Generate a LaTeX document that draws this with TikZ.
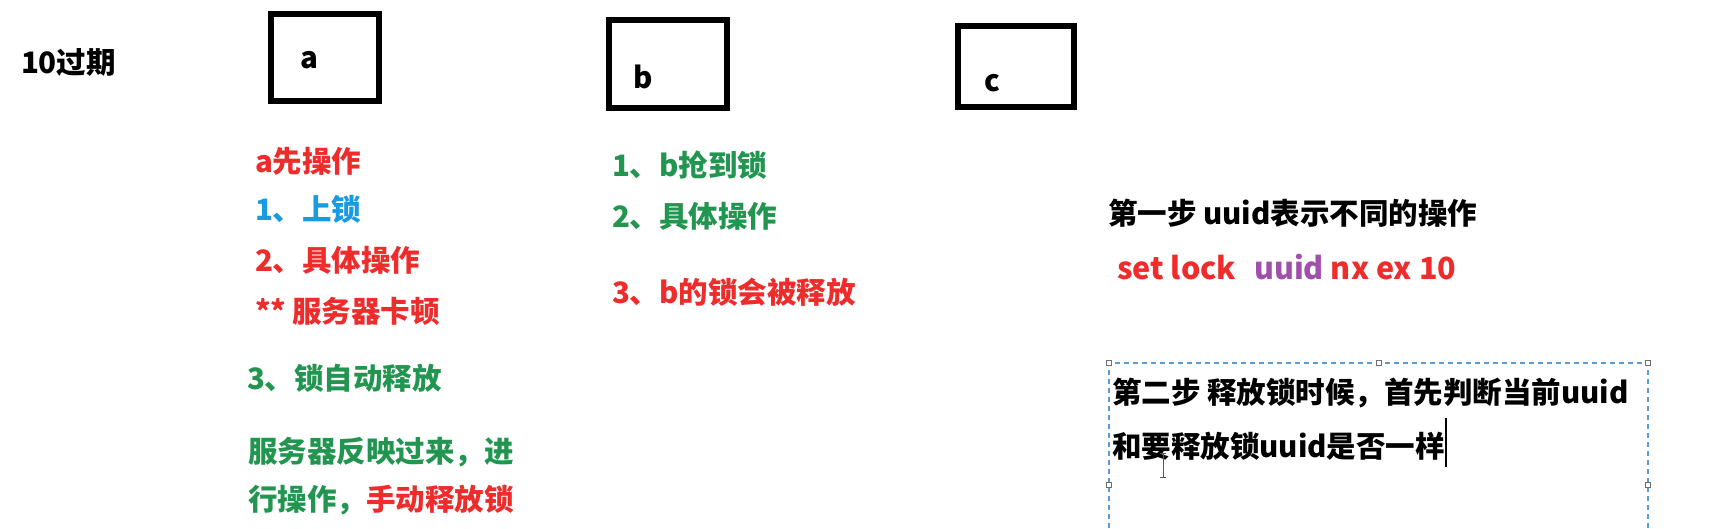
\documentclass[tikz,border=0pt]{standalone}
\usepackage{fontspec}
\setmainfont{Noto Sans CJK SC}
\definecolor{cred}{RGB}{238,44,44}
\definecolor{cgreen}{RGB}{34,150,80}
\definecolor{cblue}{RGB}{24,155,225}
\definecolor{cpurple}{RGB}{160,80,170}
\definecolor{selblue}{RGB}{91,155,213}
\definecolor{handlegray}{RGB}{110,110,110}
\newcommand\bigf{\fontsize{29.5}{35}\selectfont\bfseries}
\newcommand\cmdf{\fontsize{30.5}{36}\selectfont\bfseries}
\tikzset{
  txt/.style={anchor=base west, inner sep=0pt, outer sep=0pt, font=\bigf},
  boxlbl/.style={anchor=base, inner sep=0pt, font=\bigf},
  blackbox/.style={draw=black, line width=6.5pt, rectangle, inner sep=0pt, outer sep=0pt},
  handle/.style={draw=handlegray, fill=white, line width=0.8pt, rectangle, minimum size=5pt, inner sep=0pt},
  seldash/.style={draw=selblue, line width=1.3pt, dash pattern=on 5pt off 4pt}
}
\begin{document}
\begin{tikzpicture}[x=1pt, y=-1pt]
\useasboundingbox[fill=white] (0,0) rectangle (1715,528);

% heading
\node[txt] (title) at (21,73) {10过期};

% boxes
\node[blackbox, minimum width=108pt, minimum height=87pt] (boxa) at (325,57.5) {};
\node[blackbox, minimum width=118pt, minimum height=88pt] (boxb) at (668,64) {};
\node[blackbox, minimum width=116pt, minimum height=81pt] (boxc) at (1016,66.5) {};
\node[boxlbl] (la) at (309,68) {a};
\node[boxlbl] (lb) at (643,88) {b};
\node[boxlbl] (lc) at (992,91) {c};

% column a
\node[txt, text=cred] (a1) at (255,172) {a先操作};
\node[txt, text=cblue] (a2) at (255,220) {1、上锁};
\node[txt, text=cred] (a3) at (255,271) {2、具体操作};
\node[txt, text=cred] (a4) at (255,322) {**\hspace{6pt}服务器卡顿};
\node[txt, text=cgreen] (a5) at (247,389) {3、锁自动释放};
\node[txt, text=cgreen] (a6) at (248,462) {服务器反映过来，进};
\node[txt, text=cgreen] (a7) at (248,510) {行操作，\textcolor{cred}{手动释放锁}};

% column b
\node[txt, text=cgreen] (b1) at (612,176) {1、b抢到锁};
\node[txt, text=cgreen] (b2) at (612,227) {2、具体操作};
\node[txt, text=cred] (b3) at (612,303) {3、b的锁会被释放};

% right side
\node[txt] (s1) at (1108,224) {第一步 uuid表示不同的操作};
\node[txt, font=\cmdf, text=cred] (cmd) at (1117,279) {set lock\hspace{18pt}\textcolor{cpurple}{uuid} nx ex 10};

% selection box (extends below the picture)
\coordinate (tl) at (1109,363);
\coordinate (tr) at (1648,363);
\coordinate (bl) at (1109,528);
\coordinate (br) at (1648,528);
\draw[seldash] (bl) -- (tl) -- (tr) -- (br);
\node[handle] (h1) at (tl) {};
\node[handle] (h2) at (1378.5,363) {};
\node[handle] (h3) at (tr) {};
\node[handle] (h4) at (1109,485) {};
\node[handle] (h5) at (1648,485) {};

\node[txt] (s2) at (1112,403) {第二步 释放锁时候，首先判断当前uuid};
\node[txt] (s3) at (1112,457) {和要释放锁uuid是否一样};

% text cursor
\coordinate (cur1) at (1446,418);
\coordinate (cur2) at (1446,467);
\draw[line width=1.5pt] (cur1) -- (cur2);

% mouse I-beam
\coordinate (ib1) at (1163,453);
\coordinate (ib2) at (1163,477);
\draw[gray!70!black, line width=1pt] (ib1) -- (ib2)
  ([xshift=-3pt]ib1) -- ([xshift=3pt]ib1)
  ([xshift=-3pt]ib2) -- ([xshift=3pt]ib2);
\end{tikzpicture}
\end{document}
